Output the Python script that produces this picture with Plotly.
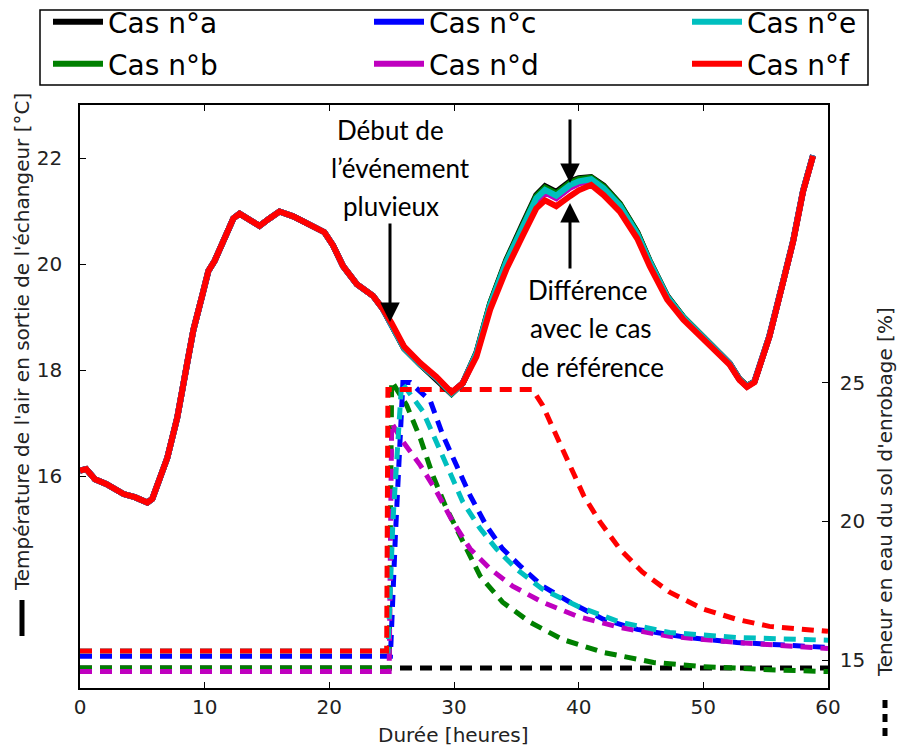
import plotly.graph_objects as go

# ---------------- data ----------------
# Air temperature at exchanger outlet [°C] -- identical for all cases before the rain event
hours_common = [0, 0.5, 1.2, 2.1, 3.5, 4.4, 5.4, 5.8, 7.0, 7.8, 8.6, 9.1, 9.8, 10.3, 10.8,
                11.5, 12.3, 12.8, 13.6, 14.4, 15.2, 16.0, 17.1, 18.4, 19.6, 20.3, 21.1,
                22.2, 23.5, 24.3]
temp_common = [16.10, 16.13, 15.94, 15.85, 15.66, 15.60, 15.50, 15.57, 16.34, 17.10, 18.13,
               18.76, 19.40, 19.87, 20.06, 20.42, 20.86, 20.95, 20.82, 20.72, 20.86, 20.99,
               20.90, 20.76, 20.60, 20.35, 19.96, 19.62, 19.40, 19.15]

hours_event = [25, 26, 27.3, 28.6, 29.8, 30.7, 31.8, 32.9, 34.2, 35.5, 36.6, 37.3, 38.2, 39.3,
               40, 41, 42, 43.3, 44.7, 45.7, 47.1, 48.4, 49.5, 50.8, 52.1, 52.9, 53.5, 54.1,
               55.3, 56.4, 57.2, 58.0, 58.8]
temp_a = [18.85, 18.40, 18.10, 17.83, 17.55, 17.75, 18.33, 19.26, 20.08, 20.75, 21.30, 21.47,
          21.36, 21.56, 21.62, 21.64, 21.48, 21.14, 20.60, 20.06, 19.40, 19.00, 18.74, 18.41,
          18.13, 17.83, 17.70, 17.78, 18.64, 19.67, 20.43, 21.38, 22.05]
temp_b = [18.86, 18.41, 18.10, 17.84, 17.56, 17.75, 18.32, 19.25, 20.06, 20.73, 21.28, 21.44,
          21.33, 21.53, 21.60, 21.63, 21.46, 21.13, 20.59, 20.05, 19.39, 19.00, 18.74, 18.41,
          18.13, 17.83, 17.70, 17.78, 18.64, 19.67, 20.43, 21.38, 22.05]
temp_c = [18.87, 18.42, 18.11, 17.85, 17.57, 17.75, 18.30, 19.21, 20.01, 20.66, 21.20, 21.36,
          21.25, 21.45, 21.53, 21.58, 21.41, 21.08, 20.55, 20.02, 19.37, 18.98, 18.72, 18.40,
          18.12, 17.82, 17.69, 17.78, 18.64, 19.67, 20.43, 21.38, 22.05]
temp_d = [18.87, 18.42, 18.11, 17.85, 17.57, 17.75, 18.29, 19.20, 20.00, 20.65, 21.19, 21.35,
          21.24, 21.44, 21.52, 21.57, 21.40, 21.07, 20.54, 20.02, 19.37, 18.98, 18.72, 18.39,
          18.12, 17.82, 17.69, 17.78, 18.64, 19.67, 20.43, 21.38, 22.05]
temp_e = [18.86, 18.41, 18.11, 17.85, 17.56, 17.75, 18.31, 19.23, 20.04, 20.70, 21.24, 21.40,
          21.29, 21.49, 21.56, 21.60, 21.43, 21.10, 20.57, 20.04, 19.38, 18.99, 18.73, 18.40,
          18.12, 17.82, 17.69, 17.78, 18.64, 19.67, 20.43, 21.38, 22.05]
temp_f = [18.88, 18.44, 18.13, 17.87, 17.58, 17.75, 18.25, 19.14, 19.90, 20.53, 21.05, 21.20,
          21.09, 21.28, 21.39, 21.49, 21.30, 20.99, 20.48, 19.96, 19.33, 18.95, 18.70, 18.38,
          18.10, 17.81, 17.68, 17.77, 18.63, 19.66, 20.42, 21.37, 22.04]

# Water content of the backfill soil [%]
moist_hours_a = [0, 60]
moist_a = [14.72, 14.72]
moist_hours_b = [0, 24.8, 25.0, 26.2, 27.3, 28.3, 29.4, 30.7, 32.1, 33.9, 36.1, 38.7, 42.0,
                 46.0, 50.0, 55.3, 60]
moist_b = [14.72, 14.72, 25.05, 24.19, 22.99, 21.66, 20.46, 19.26, 18.03, 17.09, 16.37, 15.75,
           15.28, 14.92, 14.77, 14.66, 14.59]
moist_hours_c = [0, 24.9, 25.3, 25.9, 26.5, 28.1, 29.1, 30.2, 31.3, 32.6, 33.9, 35.3, 37.1,
                 39.3, 42.0, 44.7, 48.7, 52.7, 56.7, 60]
moist_c = [15.14, 15.14, 19.5, 25.0, 25.0, 24.34, 23.11, 22.02, 20.93, 19.84, 19.01, 18.4,
           17.67, 17.09, 16.47, 16.11, 15.82, 15.64, 15.53, 15.46]
moist_hours_d = [0, 24.8, 25.0, 25.9, 27.3, 28.6, 29.9, 31.3, 32.9, 34.7, 37.1, 39.9, 43.3,
                 47.3, 52.7, 60]
moist_d = [14.59, 14.59, 23.54, 22.88, 22.02, 21.08, 19.99, 19.01, 18.29, 17.67, 17.09, 16.58,
           16.18, 15.86, 15.64, 15.42]
moist_hours_e = [0, 24.7, 25.1, 25.8, 27.5, 28.6, 29.7, 30.7, 32.1, 33.4, 35.0, 37.1, 39.9,
                 43.3, 47.3, 52.7, 60]
moist_e = [15.33, 15.33, 20.0, 25.0, 23.97, 22.88, 21.8, 20.71, 19.74, 19.01, 18.29, 17.56,
           16.95, 16.37, 16.0, 15.82, 15.72]
moist_hours_f = [0, 24.6, 24.7, 36.3, 37.1, 38.2, 39.3, 40.4, 41.7, 43.3, 45.1, 47.3, 50.0,
                 52.7, 55.3, 60]
moist_f = [15.33, 15.33, 24.75, 24.75, 24.19, 23.11, 22.02, 20.93, 19.99, 19.01, 18.18, 17.45,
           16.84, 16.47, 16.22, 16.04]

case_names = ["Cas n°a", "Cas n°b", "Cas n°c", "Cas n°d", "Cas n°e", "Cas n°f"]
case_colors = ["#000000", "#008000", "#0000FF", "#BF00BF", "#00BFBF", "#FF0000"]
temps = [temp_a, temp_b, temp_c, temp_d, temp_e, temp_f]
moist_hours = [moist_hours_a, moist_hours_b, moist_hours_c, moist_hours_d, moist_hours_e, moist_hours_f]
moists = [moist_a, moist_b, moist_c, moist_d, moist_e, moist_f]

x_ticks = [0, 10, 20, 30, 40, 50, 60]
temp_ticks = [16, 18, 20, 22]
moist_ticks = [15, 20, 25]

# ---------------- layout helpers ----------------
W, H = 909, 747
ML, MR, MT, MB = 80, 81, 105, 59
PW, PH = W - ML - MR, H - MT - MB


def px(x):
    return (x - ML) / PW


def py(y):
    return (H - MB - y) / PH


TICKFONT = dict(family="DejaVu Sans", size=20, color="#222222")
ANNFONT = dict(family="Lato", size=26, color="#000000")

fig = go.Figure()

# moisture (dashed) on primary y (right side), drawn underneath
for name, col, hx, m in zip(case_names, case_colors, moist_hours, moists):
    fig.add_trace(go.Scatter(x=hx, y=m, mode="lines", yaxis="y", showlegend=False,
                             line=dict(color=col, width=5, dash="12px,8px"),
                             name=name, hoverinfo="skip"))

# temperature (solid) on overlaying y2 (left side), drawn on top
legend_ids = ["legend", "legend2", "legend3", "legend4", "legend5", "legend6"]
for name, col, tt, lg in zip(case_names, case_colors, temps, legend_ids):
    fig.add_trace(go.Scatter(x=hours_common + hours_event, y=temp_common + tt, mode="lines",
                             yaxis="y2", name=name, legend=lg,
                             line=dict(color=col, width=6)))

# legend positions (one per entry, arranged 3 columns x 2 rows)
leg_cols = [48, 48, 369, 369, 687, 687]
leg_rows = [22, 64, 22, 64, 22, 64]
legend_layouts = {}
for lg, cx, ry in zip(legend_ids, leg_cols, leg_rows):
    legend_layouts[lg] = dict(x=px(cx), y=py(ry), xanchor="left", yanchor="middle",
                              bgcolor="rgba(0,0,0,0)", borderwidth=0, itemwidth=50,
                              font=dict(family="DejaVu Sans", size=28, color="#000000"))

axis_common = dict(showgrid=False, zeroline=False, showline=True, linecolor="black",
                   linewidth=1.5, ticks="inside", ticklen=6, tickcolor="black",
                   tickfont=TICKFONT)

fig.update_layout(
    width=W, height=H,
    margin=dict(l=ML, r=MR, t=MT, b=MB, pad=0, autoexpand=False),
    paper_bgcolor="white", plot_bgcolor="white",
    xaxis=dict(range=[0, 60], tickvals=x_ticks, mirror="ticks", **axis_common),
    yaxis=dict(range=[14, 35], tickvals=moist_ticks, side="right", ticklabelstandoff=6,
               **axis_common),
    yaxis2=dict(range=[12, 23], tickvals=temp_ticks, side="left", overlaying="y",
                ticklabelstandoff=12, **axis_common),
    **legend_layouts,
)

# legend frame
fig.add_shape(type="rect", xref="paper", yref="paper", x0=px(40), x1=px(868), y0=py(85), y1=py(10),
              line=dict(color="black", width=1.5), fillcolor="rgba(0,0,0,0)", layer="above")

# axis titles with line-style markers
fig.add_shape(type="line", xref="paper", yref="paper", x0=px(22), x1=px(22), y0=py(636), y1=py(600),
              line=dict(color="black", width=5))
fig.add_annotation(xref="paper", yref="paper", x=px(22), y=py(342), textangle=-90,
                   text="Température de l'air en sortie de l'échangeur [°C]", showarrow=False,
                   font=dict(family="DejaVu Sans", size=20, color="#222222"),
                   xanchor="center", yanchor="middle")
fig.add_shape(type="line", xref="paper", yref="paper", x0=px(885), x1=px(885), y0=py(736), y1=py(700),
              line=dict(color="black", width=5, dash="8px,6px"))
fig.add_annotation(xref="paper", yref="paper", x=px(885), y=py(492), textangle=-90,
                   text="Teneur en eau du sol d'enrobage [%]", showarrow=False,
                   font=dict(family="DejaVu Sans", size=20, color="#222222"),
                   xanchor="center", yanchor="middle")
fig.add_annotation(xref="paper", yref="paper", x=px(453), y=py(735),
                   text="Durée [heures]", showarrow=False,
                   font=dict(family="DejaVu Sans", size=20, color="#222222"),
                   xanchor="center", yanchor="middle")

# text annotations
for txt, xc, yc in [("Début de", 390, 130), ("l’événement", 400, 168), ("pluvieux", 391, 206),
                    ("Différence", 587, 290), ("avec le cas", 591, 328), ("de référence", 592, 367)]:
    fig.add_annotation(xref="paper", yref="paper", x=px(xc), y=py(yc), text=txt, showarrow=False,
                       font=ANNFONT, xanchor="center", yanchor="middle")

# arrows
for hx, hy, ay in [(390, 322, -100), (570, 183, -65), (570, 203, 67)]:
    fig.add_annotation(xref="paper", yref="paper", x=px(hx), y=py(hy), ax=0, ay=ay, text="",
                       showarrow=True, arrowhead=2, arrowsize=1.3, arrowwidth=3,
                       arrowcolor="black", standoff=0)

# remove the default page margin so the 909x747 figure fills the window exactly
fig.write_html("out.html", config={"displayModeBar": False},
               post_script="document.body.style.margin='0px';")
